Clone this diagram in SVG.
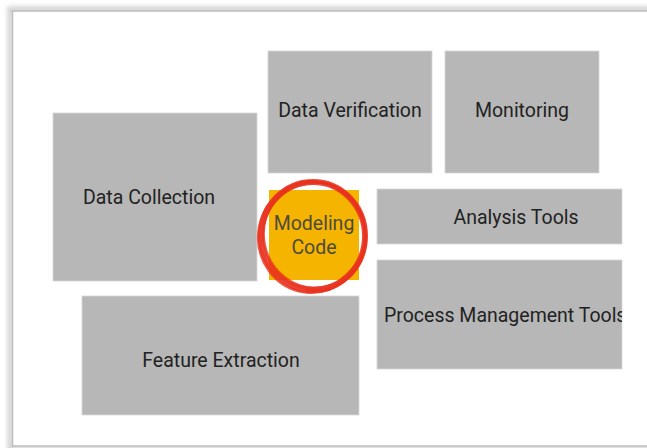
<svg xmlns="http://www.w3.org/2000/svg" width="647" height="448" viewBox="0 0 647 448">
<defs>
<style>
.box{fill:#b7b7b7;stroke:#d6d6d6;stroke-width:0.8}
.lbl{font-family:Roboto,"Liberation Sans",sans-serif;font-size:19.5px;fill:#222;text-anchor:middle}
.brush{fill:none;stroke:#e8321e}
</style>
<filter id="sh" x="-5%" y="-5%" width="110%" height="110%">
<feGaussianBlur stdDeviation="2"/>
</filter>
<clipPath id="pmclip"><rect x="377" y="260" width="245" height="109"/></clipPath>
</defs>
<rect width="647" height="448" fill="#fff"/>
<g id="frame">
<rect x="10" y="9" width="660" height="440" fill="none" stroke="#bdbdbd" stroke-width="5" filter="url(#sh)" opacity="0.7"/>
<rect x="12.5" y="11" width="660" height="435" fill="#fff" stroke="#bcbcbc" stroke-width="1.5"/>
</g>
<g id="connectors"></g>
<g id="data-verification"><rect class="box" x="268" y="51" width="164" height="122"/><text class="lbl" x="350" y="117">Data Verification</text></g>
<g id="monitoring"><rect class="box" x="445" y="51" width="154" height="122"/><text class="lbl" x="522" y="117">Monitoring</text></g>
<g id="data-collection"><rect class="box" x="53" y="113" width="204" height="168"/><text class="lbl" x="149" y="204">Data Collection</text></g>
<g id="analysis-tools"><rect class="box" x="377" y="189" width="245" height="55"/><text class="lbl" x="516" y="224">Analysis Tools</text></g>
<g id="process-management-tools"><rect class="box" x="377" y="260" width="245" height="109"/><text class="lbl" x="384" y="322" style="text-anchor:start" clip-path="url(#pmclip)">Process Management Tools</text></g>
<g id="feature-extraction"><rect class="box" x="82" y="296" width="277" height="119"/><text class="lbl" x="221" y="367">Feature Extraction</text></g>
<g id="modeling-code">
<rect x="269" y="190" width="90" height="90" fill="#f4b400"/>
<text class="lbl" x="314" y="230" style="fill:#4e4a3e">Modeling</text>
<text class="lbl" x="314" y="254" style="fill:#4e4a3e">Code</text>
<g class="brush">
<ellipse cx="313" cy="236" rx="52" ry="54" stroke-width="6" opacity="0.85"/>
<ellipse cx="312" cy="237" rx="53.5" ry="55.5" stroke-width="3" opacity="0.8" transform="rotate(8 312 237)"/>
<ellipse cx="314" cy="235" rx="50.5" ry="53" stroke-width="3" opacity="0.8" transform="rotate(-10 314 235)"/>
<path d="M300 182 C340 178 368 205 366 240 C364 275 335 294 305 290" stroke-width="2.5" opacity="0.7"/>
<path d="M330 289 C290 296 260 270 261 236 C262 205 285 184 318 183" stroke-width="2" opacity="0.6"/>
</g>
</g>
</svg>
